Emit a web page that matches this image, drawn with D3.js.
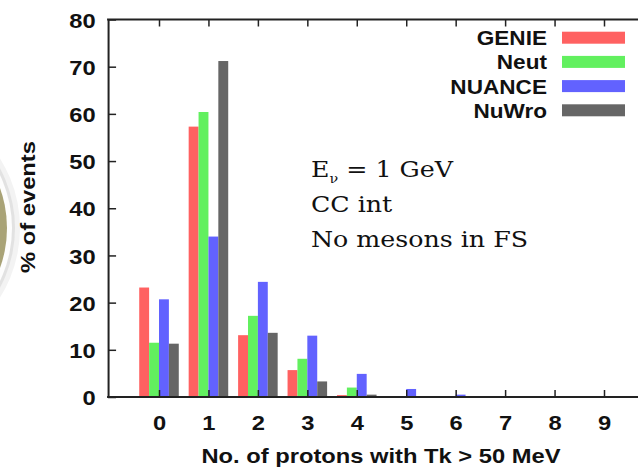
<!DOCTYPE html>
<html lang="en">
	<head>
		<meta charset="utf-8">
		<title>Protons in final state</title>
		<script src="https://d3js.org/d3.v7.min.js"></script>
		<style>
			body { margin:0; background:#fff; }
			text { font-family:"Liberation Sans", Arial, sans-serif; font-weight:bold; fill:#111; }
			.note { font-family:"DejaVu Serif", serif; font-weight:normal; fill:#111; }
			.axis path, .axis line { stroke:#222; }
		</style>
	</head>
	<body>
		<script type="text/javascript">

			// Data
			var categories = [0, 1, 2, 3, 4, 5, 6, 7, 8, 9];
			var generators = ["GENIE", "Neut", "NUANCE", "NuWro"];
			var colors = ["#ff6161", "#62f05f", "#6262ff", "#666666"];
			var genie  = [23.2, 57.3, 13.1, 5.7, 0.4, 0.0, 0.0, 0, 0, 0];
			var neut   = [11.5, 60.4, 17.2, 8.1, 2.0, 0.2, 0.0, 0, 0, 0];
			var nuance = [20.7, 34.0, 24.4, 13.0, 4.9, 1.7, 0.5, 0, 0, 0];
			var nuwro  = [11.3, 71.2, 13.6, 3.3, 0.5, 0.0, 0.0, 0, 0, 0];
			var yTicks = [0, 10, 20, 30, 40, 50, 60, 70, 80];
			var noteLines = ["CC int", "No mesons in FS"];

			const w = 638, h = 472;
			const sx = 1.13; // the original text is a little stretched sideways
			var series = [genie, neut, nuance, nuwro];

			var svg = d3.select("body").append("svg")
						.attr("width", w).attr("height", h);

			// slide decoration peeking in at the left edge
			var deco = svg.append("g");
			deco.append("circle").attr("cx", -111).attr("cy", 228).attr("r", 131)
				.attr("fill", "#f3f3f3");
			deco.append("circle").attr("cx", -111).attr("cy", 228).attr("r", 126)
				.attr("fill", "#e2e2e2");
			deco.append("circle").attr("cx", -111).attr("cy", 228).attr("r", 123)
				.attr("fill", "#fdfdfd");
			deco.append("circle").attr("cx", -111).attr("cy", 228).attr("r", 118)
				.attr("fill", "#a9a377");

			// Scales
			var xScale = d3.scaleLinear().domain([0, 9]).range([159, 604]);
			var yScale = d3.scaleLinear().domain([0, 80]).range([397, 19.5]);
			var step = xScale(1) - xScale(0);
			var bw = step * 0.2;
			var left = xScale(-1.03), right = xScale(10);

			// bars
			series.forEach((vals, i) => {
				svg.append("g").selectAll("rect")
				   .data(vals)
				   .enter()
				   .append("rect")
				   .attr("x", (d, j) => xScale(categories[j]) + (i - 2) * bw)
				   .attr("width", bw)
				   .attr("y", d => yScale(d))
				   .attr("height", d => yScale(0) - yScale(d))
				   .attr("fill", colors[i]);
			});

			// Axes
			var yAxis = d3.axisLeft(yScale).tickValues(yTicks).tickSize(-8).tickSizeOuter(0).tickPadding(11);
			var gy = svg.append("g").attr("class", "axis")
				.attr("transform", "translate(" + left + ",0)")
				.call(yAxis);
			gy.select(".domain").attr("stroke-width", 2);
			gy.selectAll("line").attr("stroke-width", 1.5);
			gy.selectAll("text").style("font-size", "21px").attr("dy", "0.36em")
				.attr("fill", "#111").attr("transform", "scale(" + sx + ",1)");

			var xAxis = d3.axisBottom(xScale).tickValues(categories).tickSize(-7).tickSizeOuter(0).tickPadding(18);
			var gx = svg.append("g").attr("class", "axis")
				.attr("transform", "translate(0," + yScale(0) + ")")
				.call(xAxis);
			gx.select(".domain").remove();
			gx.selectAll("line").attr("stroke-width", 1.5);
			gx.selectAll("text").style("font-size", "21px").attr("fill", "#111")
				.attr("transform", "scale(" + sx + ",1)");

			var xTop = d3.axisTop(xScale).tickValues(categories).tickSize(-7).tickFormat("");
			var gt = svg.append("g").attr("class", "axis")
				.attr("transform", "translate(0," + yScale(80) + ")")
				.call(xTop);
			gt.select(".domain").remove();
			gt.selectAll("line").attr("stroke-width", 1.5);

			// frame lines
			[0, 80].forEach(v => {
				svg.append("line").attr("x1", left - 1).attr("x2", right)
					.attr("y1", yScale(v)).attr("y2", yScale(v))
					.attr("stroke", "#222").attr("stroke-width", 2);
			});

			// axis labels
			svg.append("g").attr("transform", "translate(381,463) scale(" + sx + ",1)")
			   .append("text")
			   .style("text-anchor", "middle").style("font-size", "21px")
			   .text("No. of protons with Tk > 50 MeV");

			svg.append("g").attr("transform", "translate(35,207) rotate(-90) scale(" + sx + ",1)")
			   .append("text")
			   .style("text-anchor", "middle").style("font-size", "21px")
			   .text("% of events");

			// Legend
			generators.forEach((name, i) => {
				svg.append("g")
				   .attr("transform", "translate(547," + (31.7 + 24.2 * i) + ")")
				   .call((g) => {
						g.append("text")
						 .style("text-anchor", "end").style("font-size", "20px")
						 .attr("transform", "translate(0,13.5) scale(" + sx + ",1)")
						 .text(name);
						g.append("rect")
						 .attr("x", 15).attr("width", 63).attr("height", 12)
						 .attr("fill", colors[i]);
					});
			});

			// annotation
			var ng = svg.append("g").attr("transform", "translate(311,177) scale(1.1,1)");
			var note = ng.append("text").attr("class", "note").style("font-size", "23px");
			note.append("tspan").text("E");
			note.append("tspan").attr("dy", 6).style("font-size", "13px").text("\u03bd");
			note.append("tspan").attr("dy", -6).text(" = 1 GeV");
			noteLines.forEach((t, i) => {
				ng.append("text").attr("class", "note")
				   .attr("y", 35 + 35.3 * i)
				   .style("font-size", "23px")
				   .text(t);
			});

		</script>
	</body>
</html>
